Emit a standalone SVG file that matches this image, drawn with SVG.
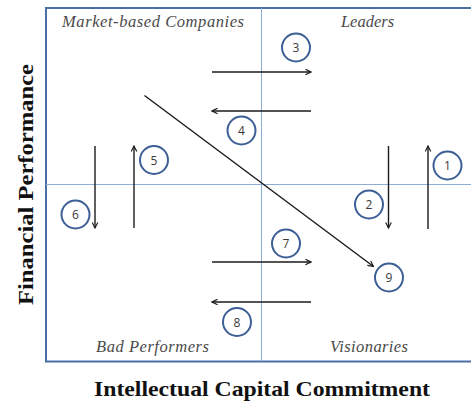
<svg xmlns="http://www.w3.org/2000/svg" width="471" height="403" viewBox="0 0 471 403">
<style>
.quad{font-family:"Liberation Serif",serif;font-style:italic;font-size:16.5px;fill:#4a4a4a}
.axis{font-family:"Liberation Serif",serif;font-weight:bold;font-size:22px;fill:#111}
.num circle{fill:#fff;stroke:#3d5f95;stroke-width:2}
.num text{font-family:"Open Sans","Liberation Sans",sans-serif;font-size:12px;fill:#3a3a3a;text-anchor:middle}
.arr{stroke:#1a1a1a;stroke-width:1.4;fill:none;marker-end:url(#ah)}
</style>
<defs>
<marker id="ah" viewBox="0 0 10 10" refX="9" refY="5" markerWidth="7" markerHeight="7" markerUnits="userSpaceOnUse" orient="auto">
<path d="M1,1 L9,5 L1,9" fill="none" stroke="#1a1a1a" stroke-width="1.6"/>
</marker>
</defs>
<rect width="471" height="403" fill="#fff"/>
<g id="frame">
<rect x="46" y="8" width="440" height="353.5" fill="none" stroke="#4a6fa5" stroke-width="2"/>
<line x1="261.5" y1="8" x2="261.5" y2="361" stroke="#8eadd6" stroke-width="1"/>
<line x1="46" y1="184.5" x2="471" y2="184.5" stroke="#8eadd6" stroke-width="1"/>
</g>
<g id="labels">
<text class="quad" x="62" y="27" textLength="182" lengthAdjust="spacing">Market-based Companies</text>
<text class="quad" x="367.5" y="27" text-anchor="middle">Leaders</text>
<text class="quad" x="96" y="352" textLength="113" lengthAdjust="spacing">Bad Performers</text>
<text class="quad" x="330" y="352" textLength="78" lengthAdjust="spacing">Visionaries</text>
<text class="axis" transform="translate(33,305) rotate(-90)" x="0" y="0" textLength="241" lengthAdjust="spacingAndGlyphs">Financial Performance</text>
<text class="axis" x="94" y="396" textLength="336" lengthAdjust="spacingAndGlyphs">Intellectual Capital Commitment</text>
</g>
<g id="connectors">
<line class="arr" x1="212" y1="72" x2="311" y2="72"/>
<line class="arr" x1="311" y1="111" x2="212" y2="111"/>
<line class="arr" x1="212" y1="262" x2="311" y2="262"/>
<line class="arr" x1="311" y1="302" x2="212" y2="302"/>
<line class="arr" x1="134" y1="228" x2="134" y2="146"/>
<line class="arr" x1="95" y1="146" x2="95" y2="228"/>
<line class="arr" x1="388.5" y1="146" x2="388.5" y2="228"/>
<line class="arr" x1="428" y1="229" x2="428" y2="146"/>
<line class="arr" x1="144.5" y1="95.5" x2="373.5" y2="266.5"/>
</g>
<g id="n1" class="num"><circle cx="447.5" cy="165.5" r="14"/><text x="447.5" y="170">1</text></g>
<g id="n2" class="num"><circle cx="369" cy="204.5" r="14"/><text x="369" y="209">2</text></g>
<g id="n3" class="num"><circle cx="296" cy="47.5" r="14"/><text x="296" y="52">3</text></g>
<g id="n4" class="num"><circle cx="241.5" cy="130.5" r="14"/><text x="241.5" y="135">4</text></g>
<g id="n5" class="num"><circle cx="154" cy="160" r="14"/><text x="154" y="164.5">5</text></g>
<g id="n6" class="num"><circle cx="75.5" cy="214.5" r="14"/><text x="75.5" y="219">6</text></g>
<g id="n7" class="num"><circle cx="286" cy="243.5" r="14"/><text x="286" y="248">7</text></g>
<g id="n8" class="num"><circle cx="237" cy="322" r="14"/><text x="237" y="326.5">8</text></g>
<g id="n9" class="num"><circle cx="389" cy="277.5" r="14"/><text x="389" y="282">9</text></g>
</svg>
